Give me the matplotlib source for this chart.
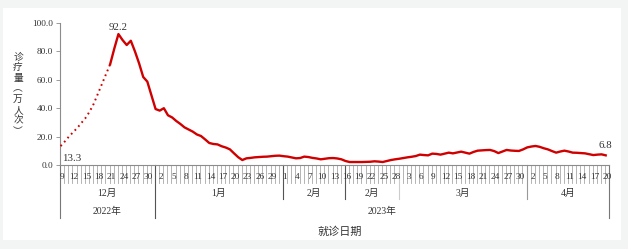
import matplotlib
matplotlib.use("Agg")
import matplotlib.pyplot as plt
import matplotlib.transforms as mtransforms
from matplotlib.patches import Rectangle

# ---------------- data ----------------
start_day = 9  # 2022-12-09
month_lengths = [("12月", 23), ("1月", 31), ("2月", 28), ("3月", 31), ("4月", 20)]
visits = [
    13.3, 16.5, 20.0, 23.0, 26.0, 29.5, 33.0, 37.5, 43.0, 50.0, 57.0, 64.0, 71.0,   # Dec 9-21 (dotted)
    82.0, 92.2, 88.0, 84.5, 87.5, 80.0, 71.6, 62.0, 58.7, 49.0,                      # Dec 22-31
    39.4, 38.3, 40.0, 35.0, 33.5, 31.0, 28.9, 26.5, 25.0, 23.5, 21.5, 20.4, 18.0,
    15.5, 14.8, 14.5, 13.2, 12.3, 11.0, 8.2, 5.5, 3.5, 4.7, 5.0, 5.4, 5.6, 5.8, 5.9,
    6.2, 6.5, 6.6,                                                                   # Jan
    6.2, 5.9, 5.3, 4.7, 4.9, 5.9, 5.6, 5.0, 4.6, 4.0, 4.4, 4.8, 4.9, 4.6, 4.0,
    2.8, 2.1, 2.1, 2.1, 2.1, 2.2, 2.3, 2.6, 2.4, 2.1, 2.8, 3.5, 4.0,                 # Feb
    4.4, 4.9, 5.4, 5.8, 6.3, 7.3, 7.0, 6.8, 8.0, 7.8, 7.3, 8.0, 8.7, 8.2, 8.8, 9.4,
    8.7, 8.0, 9.2, 10.1, 10.3, 10.5, 10.6, 9.8, 8.4, 9.5, 10.6, 10.2, 10.0, 9.9, 11.0,  # Mar
    12.4, 13.0, 13.4, 12.8, 11.8, 11.0, 9.8, 8.7, 9.5, 10.1, 9.5, 8.7, 8.6, 8.4, 8.2,
    7.6, 7.0, 7.3, 7.5, 6.8,                                                         # Apr
]
dotted_end = 12  # index of Dec 21
yticks = [0, 20, 40, 60, 80, 100]
labeled_points = {0: "13.3", 14: "92.2", 132: "6.8"}
month_groups = [("12月", 0, 23), ("1月", 23, 54), ("2月", 54, 69), ("2月", 69, 82),
                ("3月", 82, 113), ("4月", 113, 133)]
year_groups = [("2022年", 0, 23), ("2023年", 23, 133)]
xlabel = "就诊日期"
ylabel = "诊疗量（万人次）"

# day-of-month labels
day_labels = []
for name, n in month_lengths:
    first = start_day if name == "12月" else 1
    for d in range(first, first + n):
        day_labels.append(d)

n = len(visits)
x = list(range(n))

# ---------------- figure ----------------
W, H = 628, 249
fig = plt.figure(figsize=(W / 100, H / 100), dpi=100)
fig.patch.set_facecolor("#f3f5f5")
fig.patches.append(Rectangle((3 / W, 1 - 240 / H), (621 - 3) / W, (240 - 8) / H,
                             transform=fig.transFigure, facecolor="white",
                             edgecolor="none", zorder=-10))

def fy(py):
    return 1 - py / H

ax_l, ax_r, ax_t, ax_b = 60, 609, 23, 165
ax = fig.add_axes([ax_l / W, fy(ax_b), (ax_r - ax_l) / W, (ax_b - ax_t) / H])
ax.set_zorder(5)
ax.set_facecolor("none")
ax.set_xlim(-0.15, n - 0.2)
ax.set_ylim(0, 100)

serif = ["Liberation Serif", "Noto Sans CJK SC"]
red = "#d00000"

ax.plot(x[:dotted_end + 1], visits[:dotted_end + 1], color=red, lw=1.4,
        linestyle=(0, (0.9, 1.8)), zorder=3)
ax.plot(x[dotted_end:], visits[dotted_end:], color=red, lw=1.7, zorder=3)

for i, t in labeled_points.items():
    if i == 0:
        ax.annotate(t, (i, visits[i]), xytext=(1, -9), textcoords="offset points",
                    ha="left", va="center", fontsize=7.8, family=serif, color="#333333")
    elif i == n - 1:
        ax.annotate(t, (i, visits[i]), xytext=(0, 7), textcoords="offset points",
                    ha="center", va="center", fontsize=7.8, family=serif, color="#333333")
    else:
        ax.annotate(t, (i, visits[i]), xytext=(0, 5), textcoords="offset points",
                    ha="center", va="center", fontsize=7.8, family=serif, color="#333333")

# spines
for s in ["top", "right"]:
    ax.spines[s].set_visible(False)
ax.spines["left"].set_color("#8c8c8c")
ax.spines["left"].set_linewidth(0.8)
ax.spines["bottom"].set_color("#8c8c8c")
ax.spines["bottom"].set_linewidth(0.8)

ax.set_yticks(yticks)
ax.set_yticklabels([f"{v:.1f}" for v in yticks], family=serif, fontsize=6.7, color="#333333")
ax.tick_params(axis="y", length=3, width=0.6, color="#8c8c8c", pad=2)
ax.set_xticks([])

# x axis custom tick lines & labels
bt = mtransforms.blended_transform_factory(ax.transData, fig.transFigure)
for b in range(n + 1):
    xb = b - 0.5 + 0.35
    if xb < -0.15 or xb > n - 0.2:
        continue
    ax.plot([xb, xb], [fy(165), fy(183)], transform=bt, color="#a8a8a8",
            lw=0.6, clip_on=False, zorder=1)
for i, d in enumerate(day_labels):
    if i % 3 == 0:
        ax.text(i + 0.3, fy(177), str(d), transform=bt, ha="center", va="center",
                fontsize=6.7, family=serif, color="#333333")

# separators
sep = [(-0.15, 218, "#777777"), (22.85, 218, "#555555"), (53.85, 199, "#555555"),
       (68.85, 199, "#555555"), (81.85, 199, "#cccccc"), (112.85, 199, "#999999"),
       (n - 0.2, 218, "#777777")]
for xs, yb, c in sep:
    ax.plot([xs, xs], [fy(165), fy(yb)], transform=bt, color=c, lw=0.8,
            clip_on=False, zorder=2)

for name, a, b in month_groups:
    ax.text((a + b) / 2 - 0.2, fy(193), name, transform=bt, ha="center", va="center",
            fontsize=7, family=serif, color="#333333")
for name, a, b in year_groups:
    ax.text((a + b) / 2 - 0.2, fy(211), name, transform=bt, ha="center", va="center",
            fontsize=7, family=serif, color="#333333")

fig.text(340 / W, fy(232), xlabel, ha="center", va="center", fontsize=8,
         family=["Noto Sans CJK SC"], color="#333333")

ylab_chars = "诊疗量︵万人次︶"
fig.text(18 / W, fy(94), "\n".join(ylab_chars), ha="center", va="center",
         fontsize=7, family=["Noto Sans CJK SC", "DejaVu Sans"], color="#333333",
         linespacing=1.08)

fig.savefig("out.png", dpi=100, facecolor=fig.get_facecolor())
